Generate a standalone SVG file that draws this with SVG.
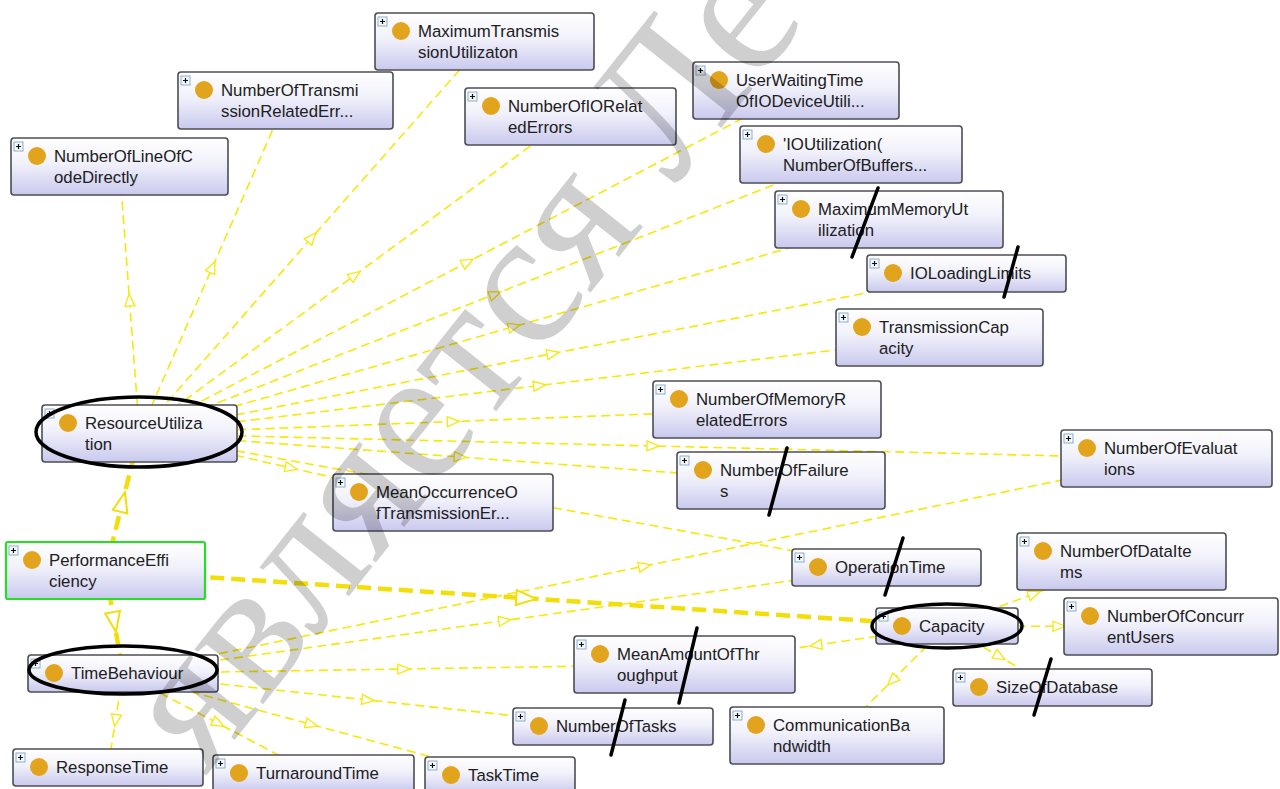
<svg xmlns="http://www.w3.org/2000/svg" width="1280" height="789" viewBox="0 0 1280 789">
<defs>
<linearGradient id="g" x1="0" y1="0" x2="0" y2="1">
<stop offset="0" stop-color="#ffffff"/>
<stop offset="0.45" stop-color="#f1f1fb"/>
<stop offset="1" stop-color="#c9c9ee"/>
</linearGradient>
<marker id="a" markerUnits="userSpaceOnUse" viewBox="-10 -10 20 20" markerWidth="20" markerHeight="20" refX="0" refY="0" orient="auto">
<path d="M-6,-5 L6,0 L-6,5 Z" fill="#ffffff" stroke="#f6e80a" stroke-width="1.3"/>
</marker>
<marker id="A" markerUnits="userSpaceOnUse" viewBox="-14 -14 28 28" markerWidth="28" markerHeight="28" refX="0" refY="0" orient="auto">
<path d="M-10,-7.5 L10,0 L-10,7.5 Z" fill="#ffffff" stroke="#f2de0a" stroke-width="2"/>
</marker>
</defs>
<style>
.e{fill:none;stroke:#f6e80a;stroke-width:1.6;stroke-dasharray:9 5;marker-mid:url(#a)}
.t{fill:none;stroke:#f2de0a;stroke-width:4.5;stroke-dasharray:14 7;marker-mid:url(#A)}
.box{fill:url(#g);stroke:#4d4d55;stroke-width:1.6}
.pe{stroke:#22e022;stroke-width:2.2}
.pb{fill:#f4f8fc;stroke:#7fa6c8;stroke-width:0.9}
.pl{stroke:#111;stroke-width:1.2;fill:none}
.dot{fill:#e2a41c}
.lb{font-family:"Liberation Sans",Arial,sans-serif;font-size:16.8px;fill:#202020}
.mk{fill:none;stroke:#000;stroke-width:3.5;stroke-linecap:round}
.wm{font-family:"Liberation Serif","Times New Roman",serif;font-size:192px;fill:#000;fill-opacity:0.19}
</style>
<rect width="1280" height="789" fill="#ffffff"/>

<g id="connectors">
<polyline class="e" points="139.5,433.5 129.5,300 119.5,166.5"/>
<polyline class="e" points="139.5,433.5 212.5,267 285.5,100.5"/>
<polyline class="e" points="139.5,433.5 312,237.5 484.5,41.5"/>
<polyline class="e" points="139.5,433.5 355,275 570.5,116.5"/>
<polyline class="e" points="139.5,433.5 467.75,262 796,90.5"/>
<polyline class="e" points="139.5,433.5 495.25,294 851,154.5"/>
<polyline class="e" points="139.5,433.5 514.25,326.5 889,219.5"/>
<polyline class="e" points="139.5,433.5 553,353.5 966.5,273.5"/>
<polyline class="e" points="139.5,433.5 539.5,385.5 939.5,337.5"/>
<polyline class="e" points="139.5,433.5 453.25,421.5 767,409.5"/>
<polyline class="e" points="139.5,433.5 653,446 1166.5,458.5"/>
<polyline class="e" points="139.5,433.5 460.25,457 781,480.5"/>
<polyline class="e" points="139.5,433.5 291.25,468 443,502.5"/>
<polyline class="e" points="139.5,433.5 513,500.5 886.5,567.5"/>
<polyline class="e" points="123,673.5 115.5,720.5 108,767.5"/>
<polyline class="e" points="123,673.5 218.25,723.5 313.5,773.5"/>
<polyline class="e" points="123,673.5 311.5,724.5 500,775.5"/>
<polyline class="e" points="123,673.5 368,700 613,726.5"/>
<polyline class="e" points="123,673.5 403.75,669 684.5,664.5"/>
<polyline class="e" points="123,673.5 504.75,620.5 886.5,567.5"/>
<polyline class="e" points="123,673.5 644.75,566 1166.5,458.5"/>
<polyline class="e" points="947,626 1034.25,593.75 1121.5,561.5"/>
<polyline class="e" points="947,626 1059,626.25 1171,626.5"/>
<polyline class="e" points="947,626 999.75,656.75 1052.5,687.5"/>
<polyline class="e" points="947,626 892,680.75 837,735.5"/>
<polyline class="e" points="947,626 815.75,645.25 684.5,664.5"/>
<polyline class="t" points="105.5,570.5 122.5,502 139.5,433.5"/>
<polyline class="t" points="105.5,570.5 114.25,622 123,673.5"/>
<polyline class="t" points="105.5,570.5 526.25,598.25 947,626"/>
</g>

<g id="n-MaximumTransmissionUtilizaton" transform="translate(375,13)"><rect class="box" width="219" height="57" rx="3"/><rect class="pb" x="3" y="4" width="9" height="9"/><path class="pl" d="M5,8.5h5M7.5,6v5"/><circle class="dot" cx="26" cy="18" r="9"/><text class="lb" x="43" y="24">MaximumTransmis</text><text class="lb" x="43" y="45">sionUtilizaton</text></g>
<g id="n-NumberOfTransmissionRelatedErr" transform="translate(178,72)"><rect class="box" width="215" height="57" rx="3"/><rect class="pb" x="3" y="4" width="9" height="9"/><path class="pl" d="M5,8.5h5M7.5,6v5"/><circle class="dot" cx="26" cy="18" r="9"/><text class="lb" x="43" y="24">NumberOfTransmi</text><text class="lb" x="43" y="45">ssionRelatedErr...</text></g>
<g id="n-NumberOfLineOfCodeDirectly" transform="translate(11,138)"><rect class="box" width="217" height="57" rx="3"/><rect class="pb" x="3" y="4" width="9" height="9"/><path class="pl" d="M5,8.5h5M7.5,6v5"/><circle class="dot" cx="26" cy="18" r="9"/><text class="lb" x="43" y="24">NumberOfLineOfC</text><text class="lb" x="43" y="45">odeDirectly</text></g>
<g id="n-NumberOfIORelatedErrors" transform="translate(465,88)"><rect class="box" width="211" height="57" rx="3"/><rect class="pb" x="3" y="4" width="9" height="9"/><path class="pl" d="M5,8.5h5M7.5,6v5"/><circle class="dot" cx="26" cy="18" r="9"/><text class="lb" x="43" y="24">NumberOfIORelat</text><text class="lb" x="43" y="45">edErrors</text></g>
<g id="n-UserWaitingTimeOfIODeviceUtili" transform="translate(693,62)"><rect class="box" width="206" height="57" rx="3"/><rect class="pb" x="3" y="4" width="9" height="9"/><path class="pl" d="M5,8.5h5M7.5,6v5"/><circle class="dot" cx="26" cy="18" r="9"/><text class="lb" x="43" y="24">UserWaitingTime</text><text class="lb" x="43" y="45">OfIODeviceUtili...</text></g>
<g id="n-IOUtilization" transform="translate(740,126)"><rect class="box" width="222" height="57" rx="3"/><rect class="pb" x="3" y="4" width="9" height="9"/><path class="pl" d="M5,8.5h5M7.5,6v5"/><circle class="dot" cx="26" cy="18" r="9"/><text class="lb" x="43" y="24">'IOUtilization(</text><text class="lb" x="43" y="45">NumberOfBuffers...</text></g>
<g id="n-MaximumMemoryUtilization" transform="translate(775,191)"><rect class="box" width="228" height="57" rx="3"/><rect class="pb" x="3" y="4" width="9" height="9"/><path class="pl" d="M5,8.5h5M7.5,6v5"/><circle class="dot" cx="26" cy="18" r="9"/><text class="lb" x="43" y="24">MaximumMemoryUt</text><text class="lb" x="43" y="45">ilization</text></g>
<g id="n-IOLoadingLimits" transform="translate(867,255)"><rect class="box" width="199" height="37" rx="3"/><rect class="pb" x="3" y="4" width="9" height="9"/><path class="pl" d="M5,8.5h5M7.5,6v5"/><circle class="dot" cx="26" cy="18" r="9"/><text class="lb" x="43" y="24">IOLoadingLimits</text></g>
<g id="n-TransmissionCapacity" transform="translate(836,309)"><rect class="box" width="207" height="57" rx="3"/><rect class="pb" x="3" y="4" width="9" height="9"/><path class="pl" d="M5,8.5h5M7.5,6v5"/><circle class="dot" cx="26" cy="18" r="9"/><text class="lb" x="43" y="24">TransmissionCap</text><text class="lb" x="43" y="45">acity</text></g>
<g id="n-ResourceUtilization" transform="translate(42,405)"><rect class="box" width="195" height="57" rx="3"/><rect class="pb" x="3" y="4" width="9" height="9"/><path class="pl" d="M5,8.5h5M7.5,6v5"/><circle class="dot" cx="26" cy="18" r="9"/><text class="lb" x="43" y="24">ResourceUtiliza</text><text class="lb" x="43" y="45">tion</text></g>
<g id="n-NumberOfMemoryRelatedErrors" transform="translate(653,381)"><rect class="box" width="228" height="57" rx="3"/><rect class="pb" x="3" y="4" width="9" height="9"/><path class="pl" d="M5,8.5h5M7.5,6v5"/><circle class="dot" cx="26" cy="18" r="9"/><text class="lb" x="43" y="24">NumberOfMemoryR</text><text class="lb" x="43" y="45">elatedErrors</text></g>
<g id="n-NumberOfFailures" transform="translate(677,452)"><rect class="box" width="208" height="57" rx="3"/><rect class="pb" x="3" y="4" width="9" height="9"/><path class="pl" d="M5,8.5h5M7.5,6v5"/><circle class="dot" cx="26" cy="18" r="9"/><text class="lb" x="43" y="24">NumberOfFailure</text><text class="lb" x="43" y="45">s</text></g>
<g id="n-NumberOfEvaluations" transform="translate(1061,430)"><rect class="box" width="211" height="57" rx="3"/><rect class="pb" x="3" y="4" width="9" height="9"/><path class="pl" d="M5,8.5h5M7.5,6v5"/><circle class="dot" cx="26" cy="18" r="9"/><text class="lb" x="43" y="24">NumberOfEvaluat</text><text class="lb" x="43" y="45">ions</text></g>
<g id="n-MeanOccurrenceOfTransmissionEr" transform="translate(333,474)"><rect class="box" width="220" height="57" rx="3"/><rect class="pb" x="3" y="4" width="9" height="9"/><path class="pl" d="M5,8.5h5M7.5,6v5"/><circle class="dot" cx="26" cy="18" r="9"/><text class="lb" x="43" y="24">MeanOccurrenceO</text><text class="lb" x="43" y="45">fTransmissionEr...</text></g>
<g id="n-PerformanceEfficiency" transform="translate(6,542)"><rect class="box pe" width="199" height="57" rx="2"/><rect class="pb" x="3" y="4" width="9" height="9"/><path class="pl" d="M5,8.5h5M7.5,6v5"/><circle class="dot" cx="26" cy="18" r="9"/><text class="lb" x="43" y="24">PerformanceEffi</text><text class="lb" x="43" y="45">ciency</text></g>
<g id="n-OperationTime" transform="translate(792,549)"><rect class="box" width="189" height="37" rx="3"/><rect class="pb" x="3" y="4" width="9" height="9"/><path class="pl" d="M5,8.5h5M7.5,6v5"/><circle class="dot" cx="26" cy="18" r="9"/><text class="lb" x="43" y="24">OperationTime</text></g>
<g id="n-NumberOfDataItems" transform="translate(1017,533)"><rect class="box" width="209" height="57" rx="3"/><rect class="pb" x="3" y="4" width="9" height="9"/><path class="pl" d="M5,8.5h5M7.5,6v5"/><circle class="dot" cx="26" cy="18" r="9"/><text class="lb" x="43" y="24">NumberOfDataIte</text><text class="lb" x="43" y="45">ms</text></g>
<g id="n-Capacity" transform="translate(876,608)"><rect class="box" width="142" height="36" rx="3"/><rect class="pb" x="3" y="4" width="9" height="9"/><path class="pl" d="M5,8.5h5M7.5,6v5"/><circle class="dot" cx="26" cy="18" r="9"/><text class="lb" x="43" y="24">Capacity</text></g>
<g id="n-NumberOfConcurrentUsers" transform="translate(1064,598)"><rect class="box" width="214" height="57" rx="3"/><rect class="pb" x="3" y="4" width="9" height="9"/><path class="pl" d="M5,8.5h5M7.5,6v5"/><circle class="dot" cx="26" cy="18" r="9"/><text class="lb" x="43" y="24">NumberOfConcurr</text><text class="lb" x="43" y="45">entUsers</text></g>
<g id="n-MeanAmountOfThroughput" transform="translate(574,636)"><rect class="box" width="221" height="57" rx="3"/><rect class="pb" x="3" y="4" width="9" height="9"/><path class="pl" d="M5,8.5h5M7.5,6v5"/><circle class="dot" cx="26" cy="18" r="9"/><text class="lb" x="43" y="24">MeanAmountOfThr</text><text class="lb" x="43" y="45">oughput</text></g>
<g id="n-TimeBehaviour" transform="translate(28,655)"><rect class="box" width="190" height="37" rx="3"/><rect class="pb" x="3" y="4" width="9" height="9"/><path class="pl" d="M5,8.5h5M7.5,6v5"/><circle class="dot" cx="26" cy="18" r="9"/><text class="lb" x="43" y="24">TimeBehaviour</text></g>
<g id="n-SizeOfDatabase" transform="translate(953,669)"><rect class="box" width="199" height="37" rx="3"/><rect class="pb" x="3" y="4" width="9" height="9"/><path class="pl" d="M5,8.5h5M7.5,6v5"/><circle class="dot" cx="26" cy="18" r="9"/><text class="lb" x="43" y="24">SizeOfDatabase</text></g>
<g id="n-NumberOfTasks" transform="translate(513,708)"><rect class="box" width="200" height="37" rx="3"/><rect class="pb" x="3" y="4" width="9" height="9"/><path class="pl" d="M5,8.5h5M7.5,6v5"/><circle class="dot" cx="26" cy="18" r="9"/><text class="lb" x="43" y="24">NumberOfTasks</text></g>
<g id="n-CommunicationBandwidth" transform="translate(730,707)"><rect class="box" width="214" height="57" rx="3"/><rect class="pb" x="3" y="4" width="9" height="9"/><path class="pl" d="M5,8.5h5M7.5,6v5"/><circle class="dot" cx="26" cy="18" r="9"/><text class="lb" x="43" y="24">CommunicationBa</text><text class="lb" x="43" y="45">ndwidth</text></g>
<g id="n-ResponseTime" transform="translate(13,749)"><rect class="box" width="190" height="37" rx="3"/><rect class="pb" x="3" y="4" width="9" height="9"/><path class="pl" d="M5,8.5h5M7.5,6v5"/><circle class="dot" cx="26" cy="18" r="9"/><text class="lb" x="43" y="24">ResponseTime</text></g>
<g id="n-TurnaroundTime" transform="translate(213,755)"><rect class="box" width="201" height="37" rx="3"/><rect class="pb" x="3" y="4" width="9" height="9"/><path class="pl" d="M5,8.5h5M7.5,6v5"/><circle class="dot" cx="26" cy="18" r="9"/><text class="lb" x="43" y="24">TurnaroundTime</text></g>
<g id="n-TaskTime" transform="translate(425,757)"><rect class="box" width="150" height="37" rx="3"/><rect class="pb" x="3" y="4" width="9" height="9"/><path class="pl" d="M5,8.5h5M7.5,6v5"/><circle class="dot" cx="26" cy="18" r="9"/><text class="lb" x="43" y="24">TaskTime</text></g>

<g id="annotations">
<ellipse class="mk" cx="139" cy="432" rx="103" ry="35"/>
<ellipse class="mk" cx="123" cy="670" rx="94" ry="24"/>
<ellipse class="mk" cx="947" cy="626" rx="75" ry="22"/>
<line class="mk" x1="878" y1="188" x2="852" y2="257"/>
<line class="mk" x1="1018" y1="247" x2="1004" y2="297"/>
<line class="mk" x1="787" y1="448" x2="769" y2="515"/>
<line class="mk" x1="903" y1="538" x2="885" y2="595"/>
<line class="mk" x1="1051" y1="659" x2="1034" y2="715"/>
<line class="mk" x1="697" y1="628" x2="679" y2="703"/>
<line class="mk" x1="625" y1="700" x2="611" y2="755"/>
</g>

<g id="watermark">
<text class="wm" transform="translate(206,776) rotate(-51.5)">является Ле</text>
</g>
</svg>
